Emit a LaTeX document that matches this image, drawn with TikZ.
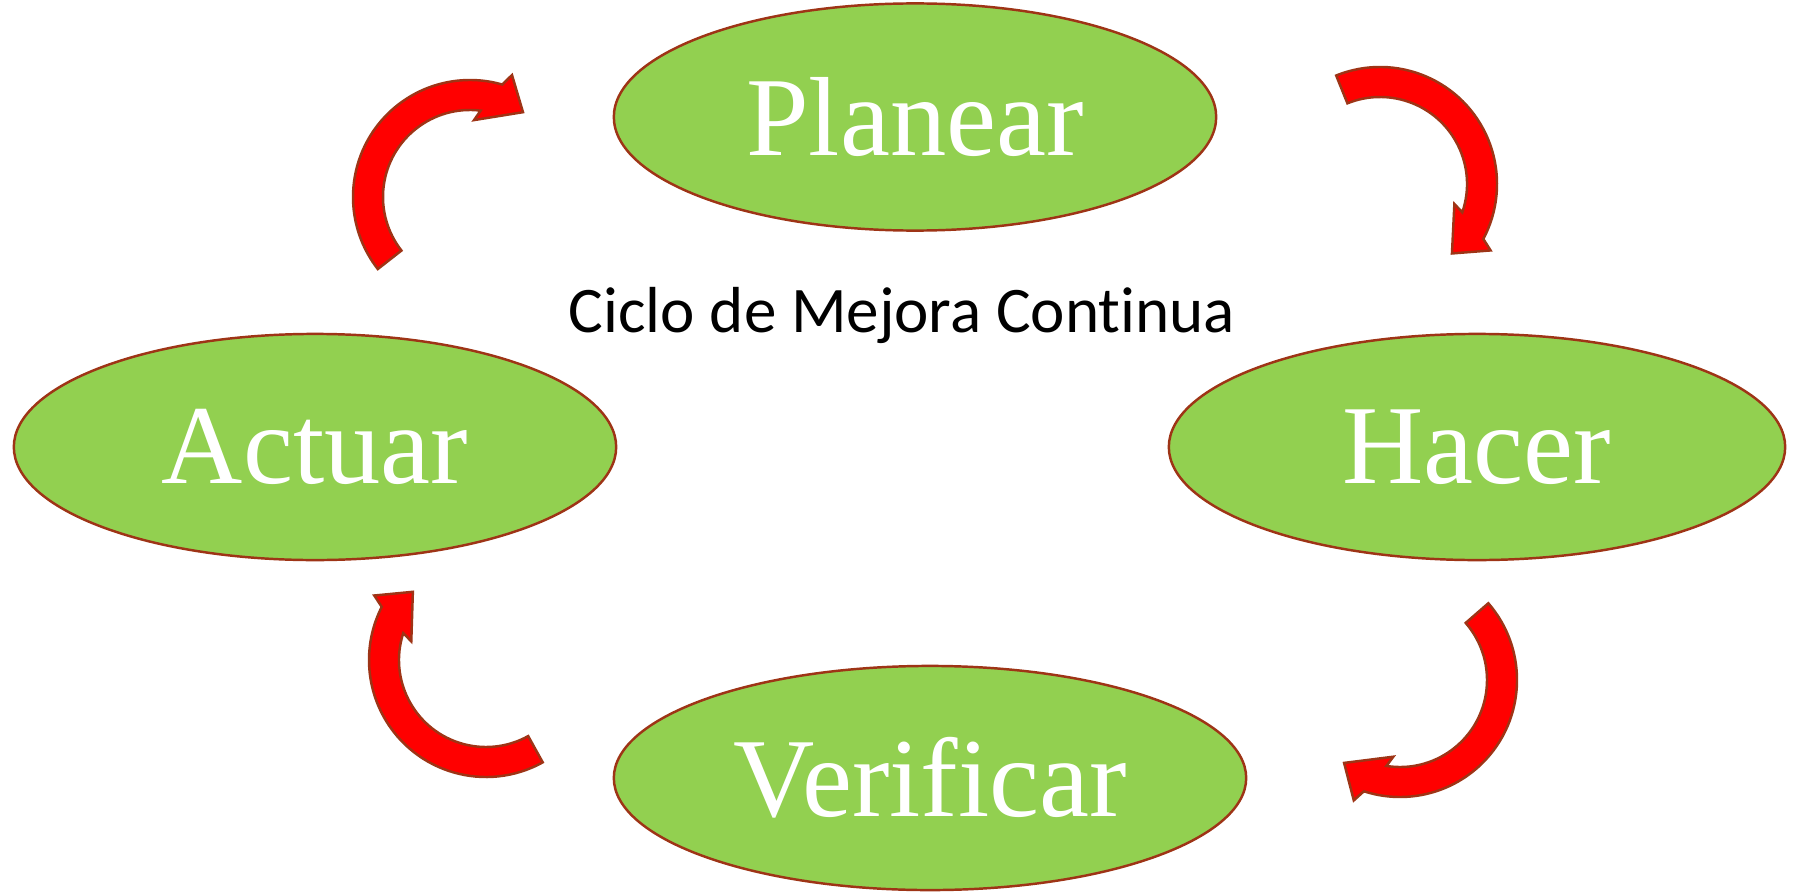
\documentclass[tikz,border=0pt]{standalone}
\usepackage{fontspec}
\setmainfont{Liberation Serif}
\newfontfamily\calibri[Ligatures=NoCommon]{Carlito}
\usetikzlibrary{shapes.geometric}

\definecolor{phasegreen}{HTML}{92D050}
\definecolor{rimbrown}{RGB}{158,52,22}

\tikzset{
  phase/.style={ellipse, draw=rimbrown, line width=0.7pt, fill=phasegreen,
    text=white, inner sep=0pt, font=\fontsize{32}{32}\selectfont},
  arrowbody/.style={draw=rimbrown, line width=0.7pt, fill=red, line join=miter}
}

% curved block arrow: centre, tail angle, head angle (clockwise)
\newcommand{\cyclearrow}[3]{%
  \begin{scope}[shift={(#1)}]
  \draw[arrowbody] (#2:117) arc[start angle=#2, end angle=#3-5, radius=117]
    -- (#3-8:129) -- (#3-21:100) -- (#3+8:77) -- (#3+4:87)
    arc[start angle=#3+4, end angle=#2, radius=87] -- cycle;
  \end{scope}}

\begin{document}
\begin{tikzpicture}[x=0.01cm,y=0.01cm]
\useasboundingbox (0,0) rectangle (1797,893);

\node[phase, minimum width=6.02cm, minimum height=2.27cm] (planear) at (915,776) {Planear};
\node[phase, minimum width=6.16cm, minimum height=2.26cm] (hacer) at (1477,446) {Hacer};
\node[phase, minimum width=6.32cm, minimum height=2.24cm] (verificar) at (930,115) {Verificar};
\node[phase, minimum width=6.02cm, minimum height=2.26cm] (actuar) at (315,446) {Actuar};

\node[font=\calibri\fontsize{18.5}{18.5}\selectfont, anchor=base] (ciclo) at (902,561) {Ciclo de Mejora Continua};

% arrow centres
\coordinate (ap) at (470,696);
\coordinate (ph) at (1380,709);
\coordinate (hv) at (1400,213);
\coordinate (va) at (486,233);

\cyclearrow{ap}{218}{79}
\cyclearrow{ph}{112}{-23}
\cyclearrow{hv}{41}{-103}
\cyclearrow{va}{-61}{-202}
\end{tikzpicture}
\end{document}
